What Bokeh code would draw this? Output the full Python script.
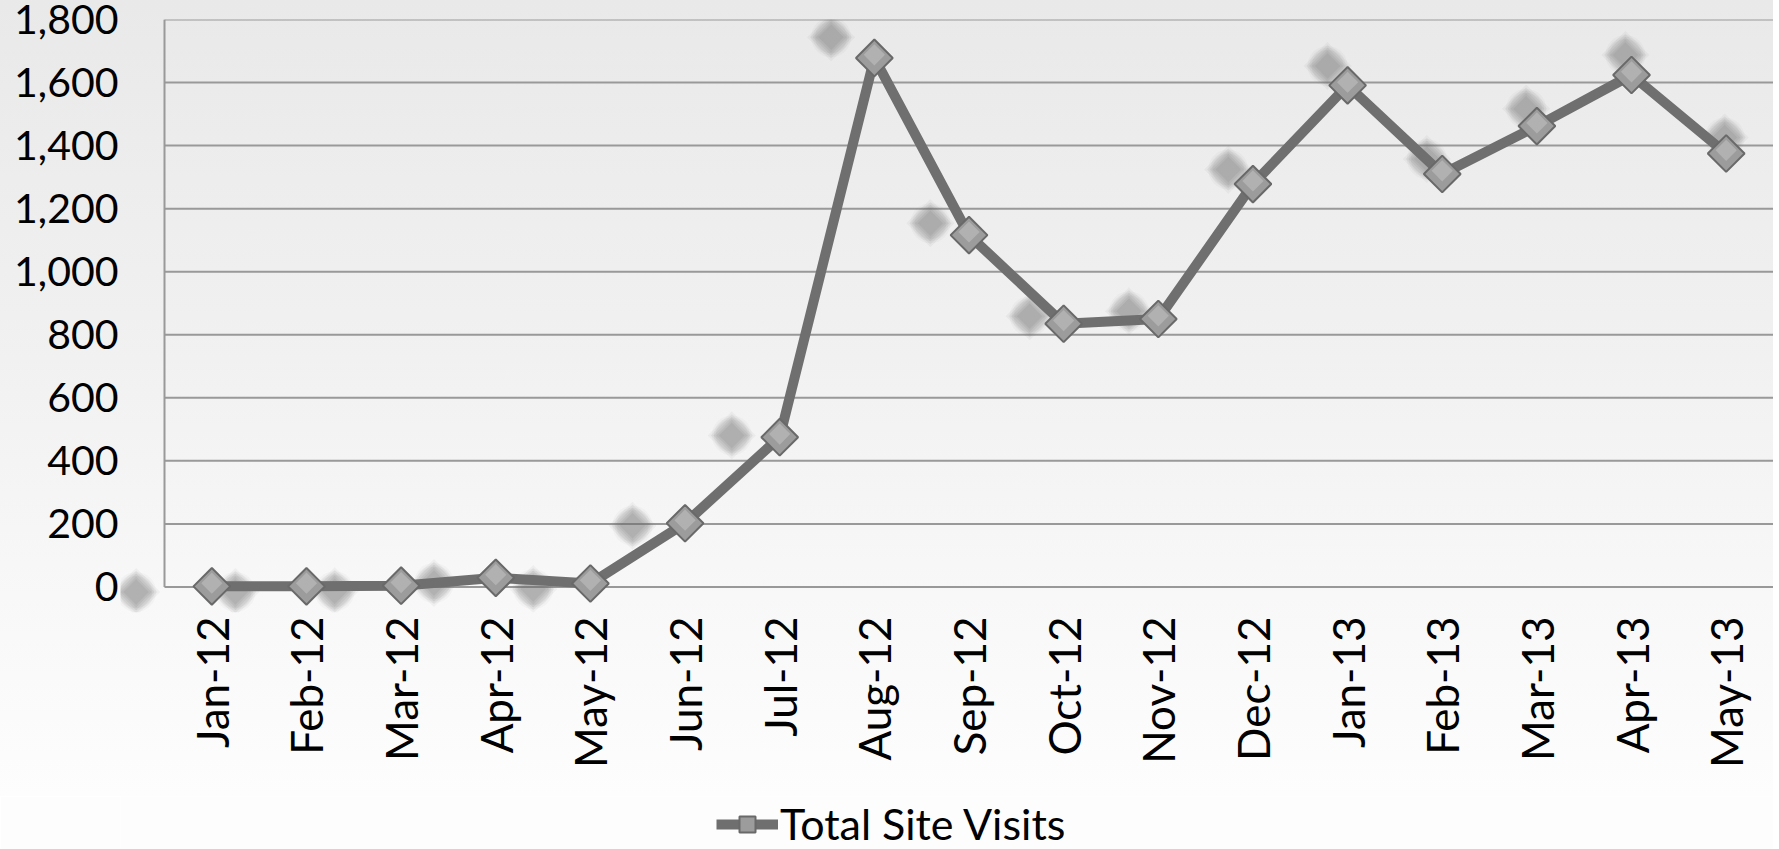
import numpy as np
from bokeh.plotting import figure
from bokeh.layouts import column
from bokeh.models import (FixedTicker, NumeralTickFormatter, Range1d, Legend, LegendItem)
from bokeh.embed import file_html
from bokeh.resources import INLINE

# ---- data ----
months = ["Jan-12", "Feb-12", "Mar-12", "Apr-12", "May-12", "Jun-12", "Jul-12",
          "Aug-12", "Sep-12", "Oct-12", "Nov-12", "Dec-12", "Jan-13", "Feb-13",
          "Mar-13", "Apr-13", "May-13"]
visits = [2, 2, 4, 29, 11, 202, 475, 1678, 1116, 835, 850, 1278, 1591, 1310,
          1462, 1624, 1375]
y_ticks = [0, 200, 400, 600, 800, 1000, 1200, 1400, 1600, 1800]
series_name = "Total Site Visits"

FONT = "Lato"
LINE_COL = "#6f6f6f"
MK_FILL = "#9c9c9c"
MK_LINE = "#696969"
idx = np.arange(len(months))
vals = np.array(visits, dtype=float)

# perspective drop shadow (scaled copy of the series)
sh_x = idx * 1.049 - 0.80
sh_y = vals * 1.05 - 18

x_lo = -0.5
x_hi = len(months) - 0.5

p = figure(frame_width=1653, frame_height=593, output_backend="svg", toolbar_location=None,
           x_range=Range1d(-0.965, x_hi), y_range=Range1d(-81, 1800),
           min_border_left=120, min_border_right=0, min_border_top=19,
           min_border_bottom=184)
p.styles = {"background": "linear-gradient(to bottom, #e9e9e9 0%, #f1f1f1 45%, #f8f8f8 75%, #fdfdfd 100%)"}
p.border_fill_alpha = 0
p.background_fill_alpha = 0
p.outline_line_color = None
p.xgrid.visible = False
p.ygrid.visible = False

# gridlines and axis lines
grid_col = "#999999"
p.segment(x0=[x_lo] * len(y_ticks), x1=[x_hi] * len(y_ticks), y0=y_ticks, y1=y_ticks,
          line_color=grid_col, line_width=2)
p.segment(x0=[x_lo], x1=[x_lo], y0=[y_ticks[0]], y1=[y_ticks[-1]],
          line_color=grid_col, line_width=2)

# blurred shadows
for s, a in [(40, 0.04), (36, 0.05), (32, 0.06)]:
    p.scatter(sh_x, sh_y, marker="circle", size=s,
              fill_color="#6a6a6a", fill_alpha=a, line_color=None)
for s, a in [(34, 0.06), (30, 0.08), (26, 0.10), (22, 0.11), (18, 0.12)]:
    p.scatter(sh_x, sh_y, marker="square", angle=np.pi / 4, size=s,
              fill_color="#6a6a6a", fill_alpha=a, line_color=None)

line_r = p.line(idx, vals, line_color=LINE_COL, line_width=10, line_join="round")
mk_r = p.scatter(idx, vals, marker="square", angle=np.pi / 4, size=26,
                 fill_color=MK_FILL, line_color=MK_LINE, line_width=2)
p.scatter(idx, vals + 10, marker="square", angle=np.pi / 4, size=15,
          fill_color="#c2c2c2", fill_alpha=0.55, line_color=None)

# axes
p.xaxis.ticker = FixedTicker(ticks=list(idx))
p.xaxis.major_label_overrides = {int(i): m for i, m in zip(idx, months)}
p.xaxis.major_label_orientation = np.pi / 2
p.yaxis.ticker = FixedTicker(ticks=y_ticks)
p.yaxis.formatter = NumeralTickFormatter(format="0,0")
for ax in (p.xaxis, p.yaxis):
    ax.axis_line_color = None
    ax.major_tick_line_color = None
    ax.minor_tick_line_color = None
    ax.major_tick_out = 0
    ax.major_tick_in = 0
    ax.major_label_text_font = FONT
    ax.major_label_text_color = "#000000"
p.xaxis.major_label_text_font_size = "44px"
p.yaxis.major_label_text_font_size = "41px"
p.xaxis.major_label_standoff = 4
p.yaxis.major_label_standoff = 2

# legend strip below the chart (proxy renderers kept outside the visible range)
q = figure(width=1773, height=53, output_backend="svg", toolbar_location=None,
           x_range=Range1d(0, 1773), y_range=Range1d(0, 53),
           min_border=0)
q.axis.visible = False
q.grid.visible = False
q.outline_line_color = None
q.border_fill_color = "#fdfdfd"
q.background_fill_color = "#fdfdfd"
proxy_x = [idx[0] - 100, idx[0] - 99]
proxy_y = [vals[0] - 100, vals[0] - 100]
lg_line = q.line(x=proxy_x, y=proxy_y, line_color=LINE_COL, line_width=10)
lg_mk = q.scatter(x=proxy_x, y=proxy_y, marker="square", angle=np.pi / 4, size=30,
                  fill_color=MK_FILL, line_color=MK_LINE, line_width=2)
legend = Legend(items=[LegendItem(label=series_name, renderers=[lg_line, lg_mk])],
                location=(596, 0), orientation="horizontal",
                background_fill_alpha=0, border_line_color=None,
                label_text_font=FONT, label_text_font_size="43px",
                label_text_color="#000000", glyph_width=62, glyph_height=40,
                label_standoff=2, padding=0, margin=0)
q.add_layout(legend, "center")

layout = column(p, q, spacing=0)
open("out.html", "w").write(file_html(layout, INLINE))
